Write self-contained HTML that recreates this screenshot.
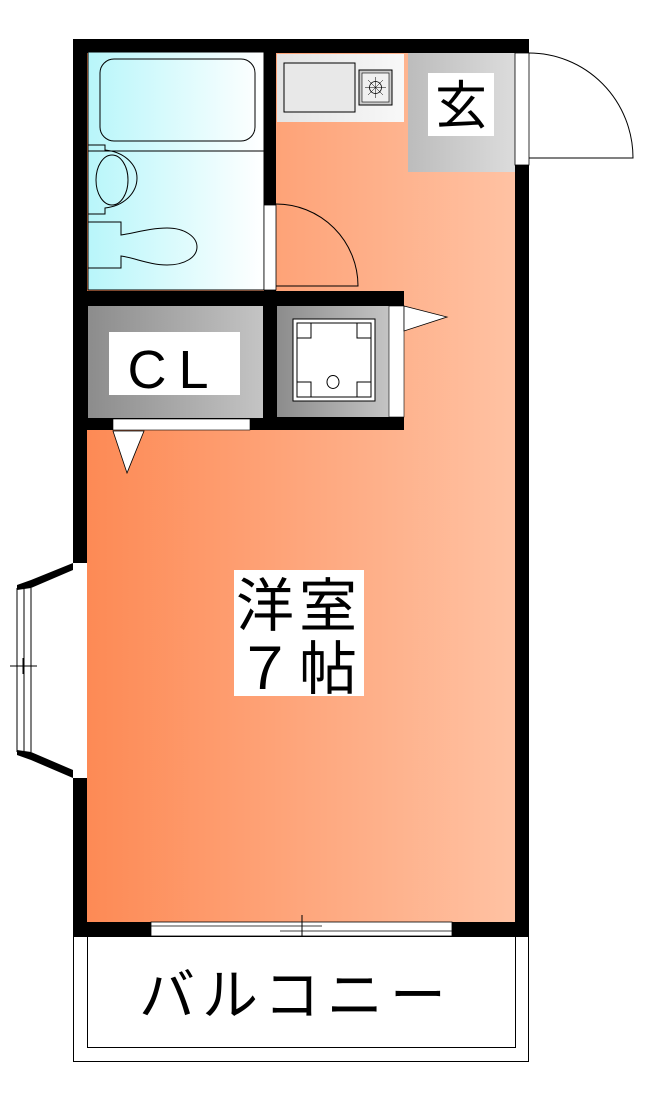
<!DOCTYPE html>
<html><head><meta charset="utf-8"><style>
html,body{margin:0;padding:0;background:#fff;}
svg{display:block;}
text{font-family:"Liberation Sans","Noto Sans CJK JP",sans-serif;}
</style></head><body>
<svg width="660" height="1110" viewBox="0 0 660 1110" xmlns="http://www.w3.org/2000/svg">
<defs>
<linearGradient id="rk" gradientUnits="userSpaceOnUse" x1="87" x2="515" y1="0" y2="0"><stop offset="0" stop-color="#fd8a55"/><stop offset="1" stop-color="#ffc2a3"/></linearGradient>
<linearGradient id="bath" x1="0" x2="1"><stop offset="0" stop-color="#b8f6fa"/><stop offset="1" stop-color="#ffffff"/></linearGradient>
<linearGradient id="grey" x1="0" x2="1"><stop offset="0" stop-color="#8c8c8c"/><stop offset="1" stop-color="#c4c4c4"/></linearGradient>
<linearGradient id="genkan" x1="0" x2="1"><stop offset="0" stop-color="#bcbcbc"/><stop offset="1" stop-color="#dcdcdc"/></linearGradient>
<linearGradient id="counter" x1="0" x2="1"><stop offset="0" stop-color="#e4e4e4"/><stop offset="1" stop-color="#f8f8f8"/></linearGradient>
</defs>
<!-- outer walls -->
<rect x="73" y="39" width="456" height="897" fill="#000"/>
<rect x="87" y="53" width="428" height="869" fill="url(#rk)"/>
<!-- bath -->
<rect x="88" y="52" width="176" height="238" fill="url(#bath)" stroke="#000" stroke-width="1"/>
<rect x="100" y="59" width="155" height="82" rx="14" fill="none" stroke="#000" stroke-width="1"/>
<line x1="88" y1="151" x2="264" y2="151" stroke="#000"/>
<path d="M88,145 H105 V150 C125,152 137,165 137,178 C137,192 125,206 105,208 V214 H88" fill="none" stroke="#000"/>
<ellipse cx="112" cy="180" rx="16" ry="25" fill="none" stroke="#000"/>
<path d="M88,222 H121 V235 C135,233 150,228 167,228 C185,228 197,237 197,247 C197,257 185,265 167,265 C150,265 135,258 121,256 V268 H88" fill="none" stroke="#000"/>
<rect x="264" y="52" width="12" height="240" fill="#000"/>
<rect x="264" y="205" width="12" height="85" fill="#fff" stroke="#000" stroke-width="0.8"/>
<path d="M276,204 A82,82 0 0 1 358,286 H276" fill="none" stroke="#000" stroke-width="1"/>
<!-- kitchen counter -->
<rect x="277" y="54" width="127" height="68" fill="url(#counter)"/>
<rect x="284" y="63" width="71" height="49" fill="#e8e8e8" stroke="#000"/>
<rect x="359" y="70" width="33" height="35" fill="#ccc" stroke="#000"/>
<rect x="362" y="73" width="27" height="29" fill="#f0f0f0" stroke="#000" stroke-width="0.6"/>
<circle cx="375.5" cy="87.5" r="6" fill="none" stroke="#000" stroke-width="0.8"/>
<path d="M375.5,77 V98 M365,87.5 H386 M368,80 L383,95 M383,80 L368,95" stroke="#000" stroke-width="0.5"/>
<!-- genkan -->
<rect x="408" y="53" width="107" height="119" fill="url(#genkan)"/>
<rect x="428" y="73" width="66" height="63" fill="#fff"/>
<text x="461" y="124" font-size="52" text-anchor="middle">玄</text>
<rect x="515" y="53" width="14" height="112" fill="#fff" stroke="#000" stroke-width="0.8"/>
<path d="M529,53 A104,105 0 0 1 633,158 H529" fill="none" stroke="#000" stroke-width="1"/>
<!-- CL / washer block -->
<rect x="73" y="291" width="331" height="139" fill="#000"/>
<rect x="88" y="306" width="175" height="112" fill="url(#grey)"/>
<rect x="109" y="332" width="131" height="63" fill="#fff"/>
<text x="174" y="388" font-size="54" text-anchor="middle" letter-spacing="12">CL</text>
<rect x="113" y="419" width="137" height="11" fill="#fff" stroke="#000" stroke-width="0.6"/>
<path d="M113,431 L127,473 L144,431 Z" fill="#fff" stroke="#000" stroke-width="0.8"/>
<rect x="277" y="306" width="112" height="111" fill="url(#grey)"/>
<rect x="293" y="319" width="82" height="82" fill="#fff" stroke="#000"/>
<rect x="297" y="323" width="74" height="74" fill="#fff" stroke="#000"/>
<path d="M297,338 H311 V323 M357,323 V338 H371 M297,382 H311 V397 M357,397 V382 H371" fill="none" stroke="#000"/>
<ellipse cx="333" cy="382" rx="6" ry="6.5" fill="none" stroke="#000"/>
<rect x="389" y="306" width="15" height="111" fill="#fff" stroke="#000" stroke-width="0.6"/>
<path d="M404,306 L447,317 L404,331 Z" fill="#fff" stroke="#000" stroke-width="0.8"/>
<!-- main room label -->
<rect x="234" y="570" width="130" height="126" fill="#fff"/>
<text x="299" y="626" font-size="58" text-anchor="middle" letter-spacing="5">洋室</text>
<text x="299" y="689" font-size="58" text-anchor="middle" letter-spacing="5">７帖</text>
<!-- bay window -->
<rect x="73" y="563" width="14" height="215" fill="#fff"/>
<path d="M73,563 L31,583 L17,583 L17,757 L31,757 L73,778" fill="#fff" stroke="none"/>
<path d="M73,556 L73,563 L31,580 L17,585 L17,590 L31,588 L73,570 Z" fill="#000"/>
<path d="M73,784 L73,778 L31,760 L17,755 L17,750 L31,752 L73,770 Z" fill="#000"/>
<path d="M17,588 V752 M24,588 V752 M31,588 V752" stroke="#000" stroke-width="1"/>
<line x1="10" y1="666" x2="37" y2="666" stroke="#000"/>
<line x1="23" y1="658" x2="23" y2="674" stroke="#000"/>
<!-- balcony window -->
<rect x="151" y="922" width="301" height="14" fill="#fff" stroke="#000" stroke-width="0.8"/>
<line x1="151" y1="926" x2="322" y2="926" stroke="#000" stroke-width="0.8"/>
<line x1="280" y1="931" x2="452" y2="931" stroke="#000" stroke-width="0.8"/>
<line x1="302" y1="915" x2="302" y2="942" stroke="#000"/>
<!-- balcony -->
<rect x="73.5" y="936.5" width="455" height="125" fill="#fff" stroke="#000"/>
<rect x="87.5" y="936.5" width="428" height="111" fill="none" stroke="#000"/>
<text x="296" y="1015" font-size="56" text-anchor="middle" letter-spacing="7">バルコニー</text>
</svg>
</body></html>
